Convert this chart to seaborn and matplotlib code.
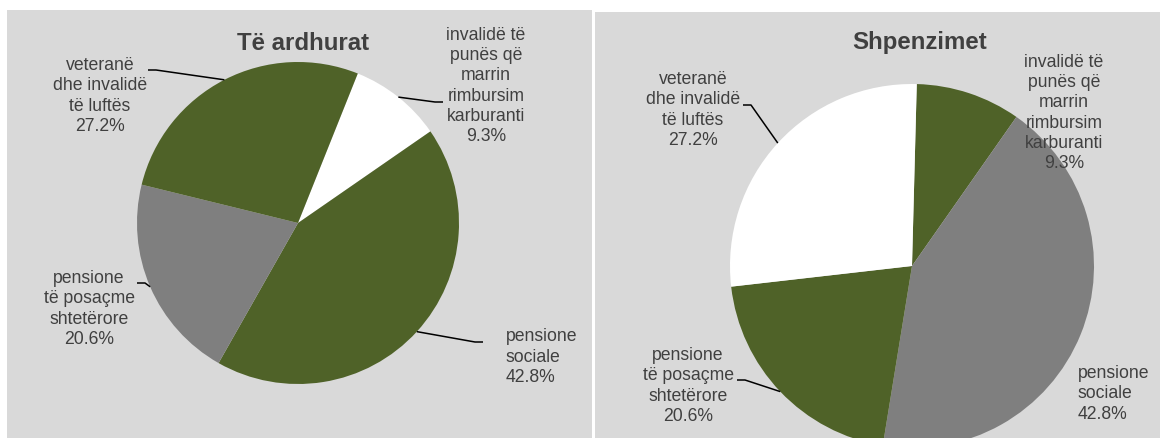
import numpy as np
import seaborn as sns
import matplotlib.pyplot as plt

# data
categories = ["invalidë të\npunës që\nmarrin\nrimbursim\nkarburanti",
              "pensione\nsociale",
              "pensione\ntë posaçme\nshtetërore",
              "veteranë\ndhe invalidë\ntë luftës"]
revenue_share = [9.3, 42.8, 20.6, 27.2]
expense_share = [9.3, 42.8, 20.6, 27.2]
titles = ["Të ardhurat", "Shpenzimet"]

GREEN = "#4f6228"
GREY = "#7f7f7f"
WHITE = "#ffffff"
BG = "#d9d9d9"
TXT = "#404040"

W, H = 1160, 438

sns.set_style("white")
plt.rcParams['font.family'] = ['Liberation Sans', 'DejaVu Sans']

fig = plt.figure(figsize=(W / 100, H / 100), dpi=100)


def px_axes(x0, y0, x1, y1):
    # axes whose data coords are figure pixels (y up)
    ax = fig.add_axes([x0 / W, 1 - y1 / H, (x1 - x0) / W, (y1 - y0) / H])
    ax.set_facecolor(BG)
    for s in ax.spines.values():
        s.set_visible(False)
    return ax, (x0, x1), (H - y1, H - y0)


panels = [
    dict(box=(7, 10, 592, 438), values=revenue_share, colors=[WHITE, GREEN, GREY, GREEN],
         center=(298, 223), r=161, start=68.2, title_xy=(303, 43),
         # label block pos (px), alignment, leader anchor (px) or None, side of the pie
         labels=[((486, 86), "center", (443, 102), -1),
                 ((506, 357), "left", (483, 342), -1),
                 ((89, 309), "center", (137, 283), 1),
                 ((100, 96), "center", (148, 70), 1)]),
    dict(box=(595, 12, 1160, 438), values=expense_share, colors=[GREEN, GREY, GREEN, WHITE],
         center=(912, 266), r=182, start=88.5, title_xy=(920, 42),
         labels=[((1064, 113), "center", None, 0),
                 ((1078, 394), "left", None, 0),
                 ((688, 386), "center", (737, 380), 1),
                 ((693, 110), "center", (743, 105), 1)]),
]

for p, title in zip(panels, titles):
    ax, xl, yl = px_axes(*p["box"])
    cx, cy = p["center"][0], H - p["center"][1]
    wedges, _ = ax.pie(p["values"], colors=p["colors"], startangle=p["start"],
                       counterclock=False, radius=p["r"], center=(cx, cy),
                       frame=True, wedgeprops=dict(linewidth=0))
    ax.set_xlim(*xl)
    ax.set_ylim(*yl)
    ax.set_aspect('auto')
    ax.set_xticks([])
    ax.set_yticks([])

    ax.text(p["title_xy"][0], H - p["title_xy"][1], title, ha="center", va="center",
            fontsize=17.3, fontweight="bold", color=TXT)

    for w, cat, val, (pos, align, anchor, side) in zip(wedges, categories, p["values"], p["labels"]):
        ax.text(pos[0], H - pos[1], f"{cat}\n{val:.1f}%", ha=align, va="center",
                multialignment=align, fontsize=12.7, color=TXT, linespacing=1.26)
        if anchor is not None:
            # leader line: short horizontal stub, then to the wedge's mid-angle on the rim
            mid = np.deg2rad((w.theta1 + w.theta2) / 2)
            ex = cx + p["r"] * np.cos(mid)
            ey = cy + p["r"] * np.sin(mid)
            lx, ly = anchor[0], H - anchor[1]
            ax.plot([lx, lx + 8 * side, ex], [ly, ly, ey], color="black", lw=1.1,
                    solid_capstyle="butt")

fig.savefig("out.png", dpi=100)
